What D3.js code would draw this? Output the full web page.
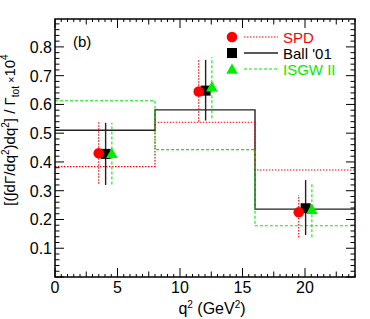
<!DOCTYPE html>
<html>
<head>
<meta charset="utf-8">
<script src="https://cdn.jsdelivr.net/npm/d3@7"></script>
<style>
  body { margin: 0; background: #fff; }
  svg { display: block; font-family: "Liberation Sans", Arial, Helvetica, sans-serif; }
</style>
</head>
<body>
<div id="chart"></div>
<script>
// Data
const binEdges = [0, 8, 16, 24];
const spdHist = [0.384, 0.538, 0.372];
const ballHist = [0.510, 0.581, 0.236];
const isgwHist = [0.613, 0.443, 0.178];

const spdQ2 = [3.5, 11.5, 19.5];
const spdVal = [0.430, 0.645, 0.225];
const spdLo = [0.324, 0.540, 0.137];
const spdHi = [0.538, 0.755, 0.285];

const ballQ2 = [4.05, 12.05, 20.05];
const ballVal = [0.428, 0.648, 0.239];
const ballLo = [0.320, 0.544, 0.146];
const ballHi = [0.536, 0.755, 0.337];

const isgwQ2 = [4.55, 12.55, 20.55];
const isgwVal = [0.430, 0.662, 0.236];
const isgwLo = [0.322, 0.552, 0.138];
const isgwHi = [0.536, 0.764, 0.328];

const xTickLabels = [0, 5, 10, 15, 20];
const yTickLabels = [0.1, 0.2, 0.3, 0.4, 0.5, 0.6, 0.7, 0.8];

const legendNames = ["SPD", "Ball '01", "ISGW II"];

// Layout
const W = 370, H = 319;
const frameL = 55, frameR = 355, frameT = 19, frameB = 277;

const svg = d3.select("#chart").append("svg")
    .attr("width", W)
    .attr("height", H);

const x = d3.scaleLinear().domain([0, 24]).range([frameL, frameR]);
const y = d3.scaleLinear().domain([0, 0.897]).range([frameB, frameT]);

const RED = "#ff0000", GREEN = "#00ee00", BLACK = "#000";

const styles = {
    spd: { color: RED, width: 1.2, dash: "1.5,1.5" },
    ball: { color: "#222", width: 1.4, dash: null },
    isgw: { color: GREEN, width: 1.1, dash: "3,2" }
};

// Histograms (step lines)
function drawHist(vals, st) {
    const pts = vals.map((v, i) => [binEdges[i], v]);
    pts.push([binEdges[binEdges.length - 1], vals[vals.length - 1]]);
    const line = d3.line()
        .x(d => x(d[0]))
        .y(d => y(d[1]))
        .curve(d3.curveStepAfter);
    svg.append("path")
        .attr("d", line(pts))
        .attr("fill", "none")
        .attr("stroke", st.color)
        .attr("stroke-width", st.width)
        .attr("stroke-dasharray", st.dash);
}
drawHist(ballHist, styles.ball);
drawHist(spdHist, styles.spd);
drawHist(isgwHist, styles.isgw);

// Error bars
function drawErr(q2, lo, hi, st) {
    svg.append("g").selectAll("line")
        .data(q2)
        .join("line")
        .attr("x1", d => x(d))
        .attr("x2", d => x(d))
        .attr("y1", (d, i) => y(lo[i]))
        .attr("y2", (d, i) => y(hi[i]))
        .attr("stroke", st.color)
        .attr("stroke-width", st.width)
        .attr("stroke-dasharray", st.dash);
}
drawErr(spdQ2, spdLo, spdHi, styles.spd);
drawErr(ballQ2, ballLo, ballHi, styles.ball);
drawErr(isgwQ2, isgwLo, isgwHi, styles.isgw);

// Markers
const squarePath = "M-5,-5H5V5H-5Z";
const trianglePath = "M0,-5.5L5.8,4.8L-5.8,4.8Z";

function drawMarkers(q2, vals, kind, color) {
    const g = svg.append("g");
    q2.forEach((q, i) => {
        const cx = x(q), cy = y(vals[i]);
        if (kind === "circle") {
            g.append("circle").attr("cx", cx).attr("cy", cy).attr("r", 5.3).attr("fill", color);
        } else {
            g.append("path")
                .attr("d", kind === "square" ? squarePath : trianglePath)
                .attr("transform", `translate(${cx},${cy})`)
                .attr("fill", color);
        }
    });
}
drawMarkers(ballQ2, ballVal, "square", BLACK);
drawMarkers(spdQ2, spdVal, "circle", RED);
drawMarkers(isgwQ2, isgwVal, "triangle", GREEN);

// Frame and ticks (ROOT style, inward on all sides)
const axisG = svg.append("g").attr("stroke", BLACK).attr("stroke-width", 1);

function tick(x1, y1, x2, y2) {
    axisG.append("line").attr("x1", x1).attr("y1", y1).attr("x2", x2).attr("y2", y2);
}

// x ticks: major 5, medium 2.5, minor 0.5
d3.range(0, 24.001, 0.5).forEach(v => {
    const r = Math.round(v * 10);
    let len = 3;
    if (r % 50 === 0) len = 9;
    else if (r % 25 === 0) len = 5.5;
    tick(x(v), frameB, x(v), frameB - len);
    tick(x(v), frameT, x(v), frameT + len);
});

// y ticks: major 0.1, minor 0.02
d3.range(0, 0.8901, 0.02).forEach(v => {
    const r = Math.round(v * 100);
    const len = r % 10 === 0 ? 9 : 4.5;
    tick(frameL, y(v), frameL + len, y(v));
    tick(frameR, y(v), frameR - len, y(v));
});

svg.append("rect")
    .attr("x", frameL).attr("y", frameT)
    .attr("width", frameR - frameL).attr("height", frameB - frameT)
    .attr("fill", "none")
    .attr("stroke", BLACK)
    .attr("stroke-width", 1.5);

// Tick labels
svg.append("g").selectAll("text")
    .data(xTickLabels)
    .join("text")
    .attr("x", d => x(d))
    .attr("y", 293)
    .attr("text-anchor", "middle")
    .attr("font-size", 16)
    .text(d => d);

svg.append("g").selectAll("text")
    .data(yTickLabels)
    .join("text")
    .attr("x", 52)
    .attr("y", d => y(d) + 6)
    .attr("text-anchor", "end")
    .attr("font-size", 16)
    .text(d => d.toFixed(1));

// Axis titles
const xt = svg.append("text")
    .attr("x", 212)
    .attr("y", 314)
    .attr("text-anchor", "middle")
    .attr("font-size", 16);
xt.append("tspan").text("q");
xt.append("tspan").attr("dy", -6).attr("font-size", 10).text("2");
xt.append("tspan").attr("dy", 6).text(" (GeV");
xt.append("tspan").attr("dy", -6).attr("font-size", 10).text("2");
xt.append("tspan").attr("dy", 6).text(")");

const yt = svg.append("text")
    .attr("transform", "translate(15,130) rotate(-90)")
    .attr("text-anchor", "middle")
    .attr("font-size", 15);
yt.append("tspan").text("[(\u222Bd\u0393/dq");
yt.append("tspan").attr("dy", -6).attr("font-size", 10).text("2");
yt.append("tspan").attr("dy", 6).text(")dq");
yt.append("tspan").attr("dy", -6).attr("font-size", 10).text("2");
yt.append("tspan").attr("dy", 6).text("] / \u0393");
yt.append("tspan").attr("dy", 4).attr("font-size", 10).text("tot");
yt.append("tspan").attr("dy", -4).attr("font-size", 11).text(" \u00D7");
yt.append("tspan").text("10");
yt.append("tspan").attr("dy", -7).attr("font-size", 10).text("4");

// Panel label
svg.append("text")
    .attr("x", 73)
    .attr("y", 47)
    .attr("font-size", 15)
    .text("(b)");

// Legend
const legendColors = [RED, BLACK, GREEN];
const legendStyles = [styles.spd, styles.ball, styles.isgw];
const legendKinds = ["circle", "square", "triangle"];
const legend = svg.append("g");
legendNames.forEach((name, i) => {
    const ly = 37 + i * 16;
    const st = legendStyles[i];
    if (legendKinds[i] === "circle") {
        legend.append("circle").attr("cx", 232).attr("cy", ly).attr("r", 5.3).attr("fill", legendColors[i]);
    } else {
        legend.append("path")
            .attr("d", legendKinds[i] === "square" ? squarePath : trianglePath)
            .attr("transform", `translate(232,${ly})`)
            .attr("fill", legendColors[i]);
    }
    legend.append("line")
        .attr("x1", 244).attr("x2", 278)
        .attr("y1", ly).attr("y2", ly)
        .attr("stroke", st.color)
        .attr("stroke-width", st.width)
        .attr("stroke-dasharray", st.dash);
    legend.append("text")
        .attr("x", 283)
        .attr("y", ly + 5.5)
        .attr("font-size", 15)
        .attr("fill", legendColors[i])
        .text(name);
});
</script>
</body>
</html>
